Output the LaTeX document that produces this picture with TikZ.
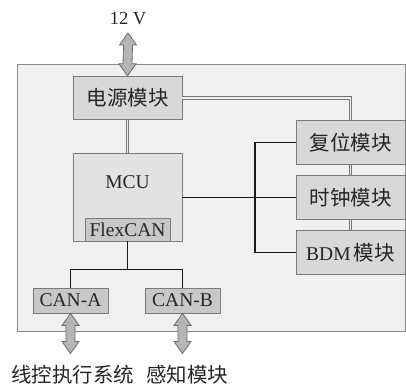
\documentclass[tikz,border=0pt]{standalone}
\usepackage{fontspec}
\setmainfont{Liberation Serif}
\newfontfamily\cjk{Noto Sans CJK SC}
\usetikzlibrary{calc}
\definecolor{bgc}{HTML}{F0F0F0}
\definecolor{framec}{HTML}{8A8A8A}
\definecolor{dblc}{HTML}{777777}
\definecolor{boxfill}{HTML}{D8D8D8}
\definecolor{mcufill}{HTML}{E2E2E2}
\definecolor{subfill}{HTML}{C8C8C8}
\definecolor{boxline}{HTML}{7A7A7A}
\definecolor{arrowfill}{HTML}{B5B5B5}
\definecolor{arrowline}{HTML}{6A6A6A}
\definecolor{txt}{HTML}{262626}
\newcommand\fatarrow[2]{%
  \draw[fatarrowstyle] (#1) -- ($(#1)+(8.5,12)$) -- ($(#1)+(4.5,12)$) -- ($(#2)+(4.5,-12)$) -- ($(#2)+(8.5,-12)$) -- (#2) -- ($(#2)+(-8.5,-12)$) -- ($(#2)+(-4.5,-12)$) -- ($(#1)+(-4.5,12)$) -- ($(#1)+(-8.5,12)$) -- cycle;}
\begin{document}
\begin{tikzpicture}[x=1pt,y=-1pt,
  cjkfont/.style={font=\fontsize{20.5}{23}\selectfont\cjk},
  box/.style={draw=boxline, fill=boxfill, line width=0.9pt, inner sep=0pt, minimum width=109pt, minimum height=43.5pt, text=txt, font=\fontsize{19.5}{22}\selectfont},
  subbox/.style={draw=boxline, fill=subfill, line width=0.9pt, inner sep=0pt, minimum height=24pt, text=txt, font=\fontsize{19.5}{22}\selectfont},
  dbl/.style={draw=dblc, double=bgc, double distance=1.8pt, line width=1pt},
  bus/.style={draw=black!90, line width=1.5pt},
  fatarrowstyle/.style={draw=arrowline, fill=arrowfill, line width=0.8pt, line join=miter},
  lbl/.style={text=txt, inner sep=0pt, font=\fontsize{19.5}{22}\selectfont}]
\useasboundingbox (0,0) rectangle (406,385);
% frame
\node[draw=framec, fill=bgc, line width=0.9pt, inner sep=0pt, minimum width=388pt, minimum height=267pt, anchor=north west] (frame) at (17,64) {};
% boxes
\node[box, cjkfont] (power) at (127.5,98) {电源模块};
\node[box, fill=mcufill, minimum height=88pt] (mcu) at (127.5,197) {};
\node[lbl] (mculabel) at (127.5,182) {MCU};
\node[subbox, minimum width=85pt, minimum height=23pt] (flexcan) at (127.5,229.5) {FlexCAN};
\node[box, cjkfont] (reset) at (350.5,142.5) {复位模块};
\node[box, cjkfont] (clock) at (350.5,197.5) {时钟模块};
\node[box] (bdm) at (350.5,252.5) {BDM\,{\fontsize{20.5}{23}\selectfont\cjk 模块}};
\node[subbox, minimum width=75pt, minimum height=25pt] (canA) at (70.5,300.5) {CAN-A};
\node[subbox, minimum width=75pt, minimum height=25pt] (canB) at (182.5,300.5) {CAN-B};
% double lines
\draw[dbl] (power.east) -| (reset.north);
\draw[dbl] (power.south) -- (mcu.north);
\draw[dbl] (reset.south) -- (clock.north);
\draw[dbl] (clock.south) -- (bdm.north);
% bus lines
\coordinate (busx) at (255,0);
\draw[bus] (mcu.east |- clock.west) -- (clock.west);
\draw[bus] (reset.west) -- (busx |- reset.west) -- (busx |- bdm.west) -- (bdm.west);
\draw[bus] (flexcan.south) -- ++(0,28) coordinate (split);
\draw[bus] (canA.north) |- (split) -| (canB.north);
% arrows and external labels
\node[lbl, font=\fontsize{18.5}{20}\selectfont] (v12) at (128,19) {12 V};
\coordinate (v12tip) at (128,33);
\fatarrow{v12tip}{power.north}
\coordinate (tipA) at ($(canA.south)+(0,40)$);
\coordinate (tipB) at ($(canB.south)+(0,40)$);
\fatarrow{canA.south}{tipA}
\fatarrow{canB.south}{tipB}
\node[lbl, cjkfont] (extA) at (72.5,375) {线控执行系统};
\node[lbl, cjkfont] (extB) at (187,375) {感知模块};
\end{tikzpicture}
\end{document}
